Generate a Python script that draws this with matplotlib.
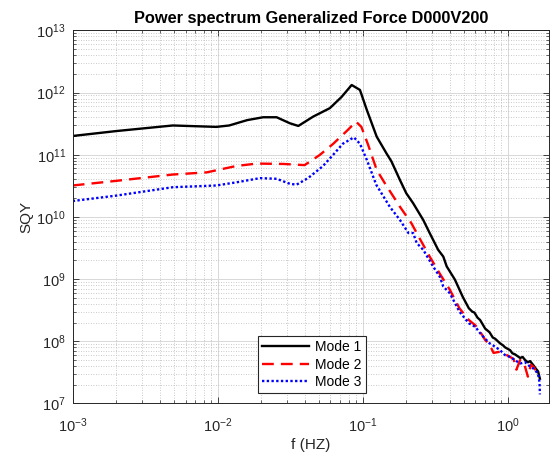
import numpy as np
import matplotlib
matplotlib.use("Agg")
import matplotlib.pyplot as plt
from matplotlib.ticker import LogLocator, LogFormatterSciNotation, NullFormatter

plt.rcParams['font.family'] = ['Liberation Sans', 'DejaVu Sans']
plt.rcParams['mathtext.fontset'] = 'custom'
plt.rcParams['mathtext.rm'] = 'Liberation Sans'
plt.rcParams['mathtext.it'] = 'Liberation Sans:italic'
plt.rcParams['mathtext.bf'] = 'Liberation Sans:bold'

title = "Power spectrum Generalized Force D000V200"
xlabel = "f (HZ)"
ylabel = "SQY"
labels = ["Mode 1", "Mode 2", "Mode 3"]

f1 = [0.001, 0.002, 0.0049, 0.0098, 0.012, 0.016, 0.0206, 0.0255, 0.0315, 0.036,
      0.0456, 0.0594, 0.0716, 0.084, 0.0958, 0.107, 0.125, 0.146, 0.158, 0.181,
      0.200, 0.223, 0.262, 0.29, 0.332, 0.36, 0.38, 0.433, 0.49, 0.54, 0.57, 0.59, 0.62,
      0.646, 0.70, 0.75, 0.79, 0.82, 0.886, 0.93, 0.96, 1.04, 1.08, 1.12, 1.22, 1.27,
      1.32, 1.38, 1.43, 1.52, 1.57, 1.62, 1.67]
y1 = [2.0e11, 2.4e11, 2.95e11, 2.8e11, 2.95e11, 3.6e11, 4.0e11, 4.0e11, 3.2e11, 2.9e11,
      4.1e11, 5.6e11, 8.5e11, 1.32e12, 1.1e12, 5.2e11, 1.95e11, 1.05e11, 7.8e10, 3.9e10,
      2.4e10, 1.66e10, 8.9e9, 5.5e9, 2.95e9, 2.3e9, 1.6e9, 9.8e8, 5.2e8, 3.4e8, 3.0e8, 2.9e8, 2.4e8,
      2.2e8, 1.6e8, 1.4e8, 1.15e8, 1.1e8, 9.3e7, 8.6e7, 8.0e7, 7.2e7, 6.4e7, 6.2e7, 5.4e7, 5.6e7,
      5.0e7, 4.6e7, 4.8e7, 4.0e7, 3.6e7, 3.3e7, 2.5e7]

f2 = [0.001, 0.002, 0.0049, 0.0084, 0.0135, 0.0186, 0.0284, 0.0398, 0.0506, 0.0627,
      0.0776, 0.09, 0.098, 0.109, 0.125, 0.142, 0.181, 0.217, 0.25, 0.29, 0.34, 0.40,
      0.465, 0.54, 0.60, 0.646, 0.70, 0.75, 0.80, 0.886, 0.96, 1.04, 1.10, 1.15, 1.22,
      1.30, 1.38, 1.45, 1.52, 1.60, 1.67]
y2 = [3.2e10, 3.8e10, 4.8e10, 5.2e10, 6.6e10, 7.2e10, 7.1e10, 6.8e10, 9.9e10, 1.5e11,
      2.4e11, 3.4e11, 2.8e11, 1.45e11, 5.7e10, 3.5e10, 1.45e10, 7.9e9, 4.3e9, 2.3e9, 1.23e9, 6.7e8,
      3.4e8, 2.2e8, 1.8e8, 1.43e8, 1.05e8, 8.9e7, 6.5e7, 6.8e7, 6.2e7, 5.6e7, 5.2e7, 3.5e7, 5.0e7,
      4.4e7, 2.7e7, 4.2e7, 3.8e7, 3.0e7, 3.2e7]

f3 = [0.001, 0.002, 0.0049, 0.0098, 0.0135, 0.0196, 0.0255, 0.0315, 0.035, 0.042,
      0.053, 0.0627, 0.073, 0.087, 0.0958, 0.107, 0.124, 0.154, 0.181, 0.207, 0.223,
      0.236, 0.262, 0.306, 0.34, 0.36, 0.40, 0.465, 0.54, 0.60, 0.646, 0.70, 0.75, 0.82,
      0.886, 0.96, 1.04, 1.12, 1.22, 1.32, 1.43, 1.52, 1.62, 1.66, 1.67]
y3 = [1.8e10, 2.2e10, 3.0e10, 3.2e10, 3.6e10, 4.2e10, 4.1e10, 3.4e10, 3.3e10, 4.2e10,
      6.5e10, 1.0e11, 1.5e11, 1.9e11, 1.5e11, 8.2e10, 3.3e10, 1.45e10, 8.9e9, 5.5e9, 5.5e9,
      3.8e9, 2.95e9, 1.6e9, 1.1e9, 7.6e8, 5.9e8, 3.0e8, 1.95e8, 1.7e8, 1.35e8, 1.1e8, 9.3e7, 8.2e7,
      7.2e7, 6.0e7, 5.6e7, 5.0e7, 4.4e7, 4.6e7, 3.9e7, 3.6e7, 3.0e7, 2.2e7, 1.4e7]

fig = plt.figure(figsize=(5.5, 4.55), dpi=100)
ax = fig.add_axes([0.1322, 0.1132, 0.866, 0.8202])

ax.loglog(f1, y1, color='black', lw=1.7, ls='-', label=labels[0])
ax.loglog(f2, y2, color='#ff0000', lw=1.7, ls=(0, (5, 3)), label=labels[1])
ax.loglog(f3, y3, color='#0000ff', lw=1.7, ls=(0, (1, 1)), label=labels[2])

ax.set_xlim(1e-3, 1.93)
ax.set_ylim(1e7, 1e13)

ax.xaxis.set_major_locator(LogLocator(base=10, numticks=10))
ax.yaxis.set_major_locator(LogLocator(base=10, numticks=10))
ax.xaxis.set_minor_locator(LogLocator(base=10, subs=np.arange(2, 10), numticks=20))
ax.yaxis.set_minor_locator(LogLocator(base=10, subs=np.arange(2, 10), numticks=20))
ax.xaxis.set_major_formatter(LogFormatterSciNotation())
ax.yaxis.set_major_formatter(LogFormatterSciNotation())
ax.xaxis.set_minor_formatter(NullFormatter())
ax.yaxis.set_minor_formatter(NullFormatter())

ax.grid(which='major', color='#d8d8d8', lw=0.7, ls='-')
ax.grid(which='minor', color='#b8b8b8', lw=0.6, ls=(0, (1, 2)))
ax.set_axisbelow(True)

ax.tick_params(which='both', direction='in', top=True, right=True, colors='#262626',
               labelcolor='#262626', labelsize=10.5)
ax.tick_params(axis='x', which='major', pad=9)
ax.tick_params(axis='y', which='major', pad=5)
ax.tick_params(which='major', length=4, width=0.6)
ax.tick_params(which='minor', length=2, width=0.5)
for s in ax.spines.values():
    s.set_color('#262626')
    s.set_linewidth(0.7)

ax.set_title(title, fontsize=11.8, fontweight='bold', pad=5, color='black')
ax.set_xlabel(xlabel, fontsize=11, color='#262626', labelpad=2.5)
ax.set_ylabel(ylabel, fontsize=11, color='#262626', labelpad=2)

leg = ax.legend(loc='lower center', bbox_to_anchor=(0.502, 0.027), fontsize=10,
                frameon=True, fancybox=False, handlelength=3.4, handletextpad=0.4,
                borderpad=0.3, labelspacing=0.25, borderaxespad=0)
leg.get_frame().set_edgecolor('#262626')
leg.get_frame().set_linewidth(0.8)
leg.get_frame().set_alpha(1)

fig.savefig('out.png', dpi=100)
